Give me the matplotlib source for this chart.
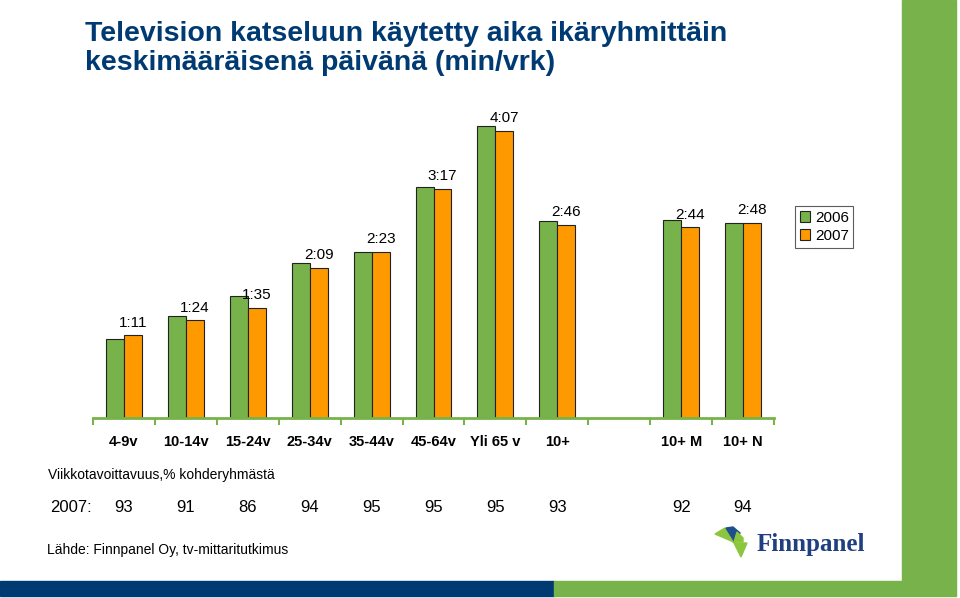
import numpy as np
import matplotlib
matplotlib.use("Agg")
import matplotlib.pyplot as plt
from matplotlib.patches import Rectangle, Polygon

plt.rcParams['font.family'] = ['Liberation Sans', 'DejaVu Sans']

# data: minutes per day, 2006 and 2007 (None = empty slot)
groups = ["4-9v", "10-14v", "15-24v", "25-34v", "35-44v", "45-64v",
          "Yli 65 v", "10+", "", "10+ M", "10+ N"]
min_2006 = [68, 88, 105, 133, 143, 199, 251, 169, None, 170, 168]
min_2007 = [71, 84, 95, 129, 143, 197, 247, 166, None, 164, 168]
reach_2007 = [93, 91, 86, 94, 95, 95, 95, 93, None, 92, 94]

title_lines = ["Television katseluun käytetty aika ikäryhmittäin",
               "keskimääräisenä päivänä (min/vrk)"]
reach_title = "Viikkotavoittavuus,% kohderyhmästä"
source = "Lähde: Finnpanel Oy, tv-mittaritutkimus"

GREEN = "#78b24b"
ORANGE = "#ff9900"
NAVY = "#003a72"
W, H = 960, 598


def fx(px):
    return px / W


def fy(py):
    return 1 - py / H


fig = plt.figure(figsize=(9.6, 5.98), dpi=100)

# background decorations
fig.patches.append(Rectangle((fx(902), fy(581)), fx(956) - fx(902), fy(0) - fy(581),
                             transform=fig.transFigure, color=GREEN, zorder=0))
fig.patches.append(Rectangle((fx(0), fy(596)), fx(554), fy(581) - fy(596),
                             transform=fig.transFigure, color=NAVY, zorder=0))
fig.patches.append(Rectangle((fx(554), fy(596)), fx(956) - fx(554), fy(581) - fy(596),
                             transform=fig.transFigure, color=GREEN, zorder=0))

for line, ypx in zip(title_lines, [34, 63]):
    fig.text(fx(85), fy(ypx), line, color=NAVY, fontsize=20.5, fontweight="bold",
             va="center", ha="left")

# main chart
ax = fig.add_axes([fx(93), fy(418), fx(774) - fx(93), fy(100) - fy(418)])
x = np.arange(len(groups))
bw = 0.29
v06 = np.array([np.nan if v is None else v for v in min_2006], dtype=float)
v07 = np.array([np.nan if v is None else v for v in min_2007], dtype=float)
ax.bar(x - bw / 2, v06, bw, color=GREEN, edgecolor="#222222", linewidth=0.8, label="2006")
ax.bar(x + bw / 2, v07, bw, color=ORANGE, edgecolor="#222222", linewidth=0.8, label="2007")

for i, v in enumerate(min_2007):
    if v is None:
        continue
    ax.annotate(f"{v // 60}:{v % 60:02d}", (x[i] + bw / 2, v), xytext=(0, 4),
                textcoords="offset points", ha="center", va="bottom", fontsize=11)

ax.set_xlim(-0.5, len(groups) - 0.5)
ax.set_ylim(0, 318 / 1.163)
for s in ["top", "right", "left"]:
    ax.spines[s].set_visible(False)
ax.spines["bottom"].set_color(GREEN)
ax.spines["bottom"].set_linewidth(2)
ax.set_yticks([])
ax.set_xticks(x)
ax.set_xticklabels(groups, fontsize=10.5, fontweight="bold")
ax.tick_params(axis="x", which="major", length=0, pad=12)
ax.set_xticks(np.arange(len(groups) + 1) - 0.5, minor=True)
ax.tick_params(axis="x", which="minor", length=5, width=1.5, color=GREEN)
ax.patch.set_alpha(0)

leg = ax.legend(loc="upper left", bbox_to_anchor=(fx(795), fy(206)),
                bbox_transform=fig.transFigure, fontsize=11, frameon=True,
                fancybox=False, handlelength=0.7, handleheight=0.7,
                handletextpad=0.3, borderpad=0.3, labelspacing=0.3,
                borderaxespad=0)
leg.get_frame().set_edgecolor("#333333")
leg.get_frame().set_linewidth(0.8)

# reach row
fig.text(fx(48), fy(475), reach_title, fontsize=10, va="center", ha="left")
fig.text(fx(50), fy(507), "2007:", fontsize=12, va="center", ha="left")
tr = matplotlib.transforms.blended_transform_factory(ax.transData, fig.transFigure)
for i, r in enumerate(reach_2007):
    if r is None:
        continue
    fig.text(x[i], fy(507), str(r), transform=tr, fontsize=12, va="center", ha="center")

fig.text(fx(47), fy(550), source, fontsize=10, va="center", ha="left")

# logo
lax = fig.add_axes([fx(712), fy(560), fx(750) - fx(712), fy(524) - fy(560)])
lax.set_xlim(712, 750)
lax.set_ylim(560, 524)
lax.axis("off")
lax.add_patch(Polygon([(715, 534), (725, 528), (733, 542), (736, 543)], color="#8cc63f"))
lax.add_patch(Polygon([(726, 528), (733, 527), (740, 533), (734, 541)], color="#1f4e8c"))
lax.add_patch(Polygon([(737, 532), (743, 538), (743, 542), (734, 542)], color="#8cc63f"))
lax.add_patch(Polygon([(734, 543), (747, 543), (741, 557)], color="#8cc63f"))
fig.text(fx(757), fy(545), "Finnpanel", family=["Liberation Serif"], fontweight="bold",
         fontsize=18, color="#1f3f80", va="center", ha="left")

fig.savefig("out.png", dpi=100)
